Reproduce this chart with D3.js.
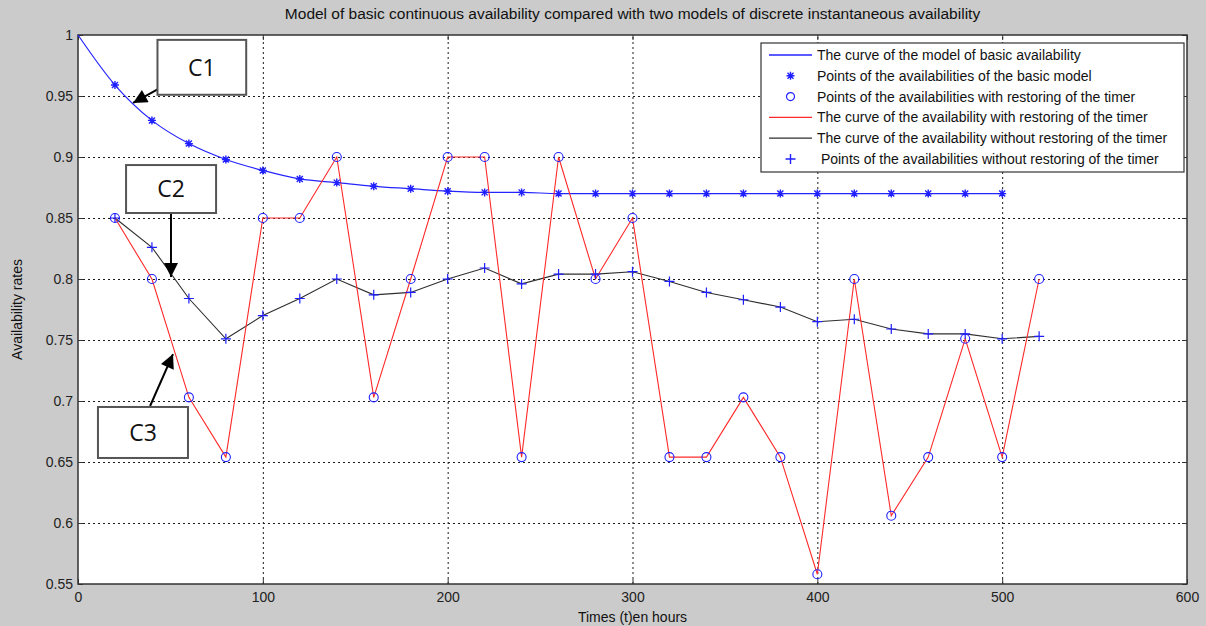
<!DOCTYPE html>
<html>
<head>
<meta charset="utf-8">
<script src="https://cdn.jsdelivr.net/npm/d3@7"></script>
<style>
  html, body { margin: 0; padding: 0; background: #cbcbcb; }
  svg { display: block; font-family: "Liberation Sans", Arial, sans-serif; }
  .grid line { stroke: #1a1a1a; stroke-width: 1; stroke-dasharray: 2,3; }
  .grid path, .frame-ticks path { display: none; }
  .axis path { display: none; }
  .axis line, .frame-ticks line { stroke: #333; }
  .axis text { fill: #222; font-size: 14px; font-family: "Liberation Sans", Arial, sans-serif; }
</style>
</head>
<body>
<svg id="chart"></svg>
<script>
'use strict';

// layout constants
const CONFIG = {
  width: 1206,
  height: 626,
  left: 78,
  right: 1187,
  top: 35,
  bottom: 584,
  tickLen: 5,
  fontSize: 14,
  titleSize: 15.5,
  legend: { x: 761, y: 43, w: 423, h: 129, rowH: 20.8, sampleX0: 769, sampleX1: 812, textX: 817 }
};

const COLORS = {
  blue: '#2424ff',
  red: '#ff2a2a',
  black: '#2e2e2e',
  marker: '#1f1fff'
};

// axis ticks
const xTicks = [0, 100, 200, 300, 400, 500, 600];
const yTicks = [0.55, 0.6, 0.65, 0.7, 0.75, 0.8, 0.85, 0.9, 0.95, 1];

// basic model: continuous curve + star points (hours)
const basicHours = [0, 20, 40, 60, 80, 100, 120, 140, 160, 180, 200, 220, 240, 260,
  280, 300, 320, 340, 360, 380, 400, 420, 440, 460, 480, 500];
const basicValues = [1, 0.959, 0.930, 0.911, 0.898, 0.889, 0.882, 0.879, 0.876, 0.874,
  0.872, 0.871, 0.871, 0.870, 0.870, 0.870, 0.870, 0.870, 0.870, 0.870, 0.870, 0.870,
  0.870, 0.870, 0.870, 0.870];

// discrete models
const discreteHours = [20, 40, 60, 80, 100, 120, 140, 160, 180, 200, 220, 240, 260,
  280, 300, 320, 340, 360, 380, 400, 420, 440, 460, 480, 500, 520];
const restoreValues = [0.85, 0.80, 0.703, 0.654, 0.85, 0.85, 0.90, 0.703, 0.80, 0.90,
  0.90, 0.654, 0.90, 0.80, 0.85, 0.654, 0.654, 0.703, 0.654, 0.558, 0.80, 0.606,
  0.654, 0.751, 0.654, 0.80];
const noRestoreValues = [0.85, 0.826, 0.784, 0.751, 0.770, 0.784, 0.80, 0.787, 0.789,
  0.80, 0.809, 0.796, 0.804, 0.804, 0.806, 0.798, 0.789, 0.783, 0.777, 0.765, 0.767,
  0.759, 0.755, 0.755, 0.751, 0.753];

const legendLabels = [
  'The curve of the model of basic availability',
  'Points of the availabilities of the basic model',
  'Points of the availabilities with restoring of the timer',
  'The curve of the availability with restoring of the timer',
  'The curve of the availability without restoring of the timer',
  ' Points of the availabilities without restoring of the timer'
];
const legendKinds = ['blueLine', 'star', 'circle', 'redLine', 'blackLine', 'plus'];

// callout boxes, in data units
const annotations = [
  { label: 'C1', box: [43, 91, 0.996, 0.951], from: [43.3, 0.9557], to: [29.8, 0.9443] },
  { label: 'C2', box: [26, 74.7, 0.8934, 0.8541], from: [50.3, 0.8541], to: [50.3, 0.8016] },
  { label: 'C3', box: [10.8, 59.5, 0.6951, 0.6533], from: [39, 0.6959], to: [51.4, 0.7385] }
];

const titleText = 'Model of basic continuous availability compared with two models of discrete instantaneous availability';
const xLabel = 'Times (t)en hours';
const yLabel = 'Availability rates';

const svg = d3.select('#chart')
  .attr('width', CONFIG.width)
  .attr('height', CONFIG.height);

svg.append('rect')
  .attr('width', CONFIG.width).attr('height', CONFIG.height)
  .attr('fill', '#cbcbcb');

const x = d3.scaleLinear().domain([0, 600]).range([CONFIG.left, CONFIG.right]);
const y = d3.scaleLinear().domain([0.55, 1]).range([CONFIG.bottom, CONFIG.top]);
const plotW = CONFIG.right - CONFIG.left;
const plotH = CONFIG.bottom - CONFIG.top;

// white plotting area
svg.append('rect')
  .attr('x', CONFIG.left).attr('y', CONFIG.top)
  .attr('width', plotW).attr('height', plotH)
  .attr('fill', '#fff');

// dotted grid
svg.append('g')
  .attr('class', 'grid')
  .attr('transform', `translate(0,${CONFIG.bottom})`)
  .call(d3.axisBottom(x).tickValues(xTicks.slice(1, -1)).tickSize(-plotH).tickFormat(''));

svg.append('g')
  .attr('class', 'grid')
  .attr('transform', `translate(${CONFIG.left},0)`)
  .call(d3.axisLeft(y).tickValues(yTicks.slice(1, -1)).tickSize(-plotW).tickFormat(''));

// axes with inward ticks
svg.append('g')
  .attr('class', 'axis')
  .attr('transform', `translate(0,${CONFIG.bottom})`)
  .call(d3.axisBottom(x).tickValues(xTicks).tickSizeInner(-CONFIG.tickLen).tickSizeOuter(0).tickPadding(8).tickFormat(d3.format('d')));

svg.append('g')
  .attr('class', 'axis')
  .attr('transform', `translate(${CONFIG.left},0)`)
  .call(d3.axisLeft(y).tickValues(yTicks).tickSizeInner(-CONFIG.tickLen).tickSizeOuter(0).tickPadding(5).tickFormat(d => String(+d.toFixed(2))));

svg.append('g')
  .attr('class', 'frame-ticks')
  .attr('transform', `translate(0,${CONFIG.top})`)
  .call(d3.axisTop(x).tickValues(xTicks).tickSizeInner(-CONFIG.tickLen).tickSizeOuter(0).tickFormat(''));

svg.append('g')
  .attr('class', 'frame-ticks')
  .attr('transform', `translate(${CONFIG.right},0)`)
  .call(d3.axisRight(y).tickValues(yTicks).tickSizeInner(-CONFIG.tickLen).tickSizeOuter(0).tickFormat(''));

// box around the axes
svg.append('rect')
  .attr('x', CONFIG.left).attr('y', CONFIG.top)
  .attr('width', plotW).attr('height', plotH)
  .attr('fill', 'none')
  .attr('stroke', '#333')
  .attr('stroke-width', 1.5);

// marker shapes
const starPath = 'M-4,0L4,0M0,-4L0,4M-3,-3L3,3M-3,3L3,-3';
const plusPath = 'M-5,0L5,0M0,-5L0,5';

const basicData = basicHours.map((t, i) => ({ t, v: basicValues[i] }));
const restoreData = discreteHours.map((t, i) => ({ t, v: restoreValues[i] }));
const noRestoreData = discreteHours.map((t, i) => ({ t, v: noRestoreValues[i] }));

const straight = d3.line().x(d => x(d.t)).y(d => y(d.v));
const smooth = d3.line().x(d => x(d.t)).y(d => y(d.v)).curve(d3.curveMonotoneX);

const plot = svg.append('g');

plot.append('path')
  .datum(basicData)
  .attr('d', smooth)
  .attr('fill', 'none')
  .attr('stroke', COLORS.blue)
  .attr('stroke-width', 1.2);

plot.append('path')
  .datum(noRestoreData)
  .attr('d', straight)
  .attr('fill', 'none')
  .attr('stroke', COLORS.black)
  .attr('stroke-width', 1.1);

plot.append('path')
  .datum(restoreData)
  .attr('d', straight)
  .attr('fill', 'none')
  .attr('stroke', COLORS.red)
  .attr('stroke-width', 1.1);

plot.selectAll('.star')
  .data(basicData.filter(d => d.t > 0))
  .enter().append('path')
  .attr('class', 'star')
  .attr('transform', d => `translate(${x(d.t)},${y(d.v)})`)
  .attr('d', starPath)
  .attr('stroke', COLORS.marker)
  .attr('stroke-width', 1.4);

plot.selectAll('.ring')
  .data(restoreData)
  .enter().append('circle')
  .attr('class', 'ring')
  .attr('cx', d => x(d.t))
  .attr('cy', d => y(d.v))
  .attr('r', 4.5)
  .attr('fill', 'none')
  .attr('stroke', COLORS.marker)
  .attr('stroke-width', 1.1);

plot.selectAll('.plus')
  .data(noRestoreData)
  .enter().append('path')
  .attr('class', 'plus')
  .attr('transform', d => `translate(${x(d.t)},${y(d.v)})`)
  .attr('d', plusPath)
  .attr('stroke', COLORS.marker)
  .attr('stroke-width', 1.2);

// callouts C1, C2, C3
svg.append('defs').append('marker')
  .attr('id', 'arrowhead')
  .attr('viewBox', '0 0 10 10')
  .attr('refX', 10).attr('refY', 5)
  .attr('markerUnits', 'userSpaceOnUse')
  .attr('markerWidth', 16).attr('markerHeight', 14)
  .attr('orient', 'auto')
  .append('path')
  .attr('d', 'M0,0L10,5L0,10Z')
  .attr('fill', '#000');

const callout = svg.append('g').selectAll('g')
  .data(annotations)
  .enter().append('g');

callout.append('line')
  .attr('x1', d => x(d.from[0])).attr('y1', d => y(d.from[1]))
  .attr('x2', d => x(d.to[0])).attr('y2', d => y(d.to[1]))
  .attr('stroke', '#000')
  .attr('stroke-width', 2)
  .attr('marker-end', 'url(#arrowhead)');

callout.append('rect')
  .attr('x', d => x(d.box[0]))
  .attr('y', d => y(d.box[2]))
  .attr('width', d => x(d.box[1]) - x(d.box[0]))
  .attr('height', d => y(d.box[3]) - y(d.box[2]))
  .attr('fill', '#fff')
  .attr('stroke', '#555')
  .attr('stroke-width', 2);

callout.append('text')
  .attr('x', d => (x(d.box[0]) + x(d.box[1])) / 2)
  .attr('y', d => (y(d.box[2]) + y(d.box[3])) / 2)
  .attr('dy', '0.36em')
  .attr('text-anchor', 'middle')
  .attr('font-family', '"Open Sans", "Liberation Sans", sans-serif')
  .attr('font-size', 23)
  .attr('fill', '#111')
  .text(d => d.label);

// legend
const L = CONFIG.legend;
const legend = svg.append('g');
legend.append('rect')
  .attr('x', L.x).attr('y', L.y)
  .attr('width', L.w).attr('height', L.h)
  .attr('fill', '#fff')
  .attr('stroke', '#333')
  .attr('stroke-width', 1.2);

const row = legend.selectAll('.row')
  .data(legendLabels.map((label, i) => ({ label, kind: legendKinds[i], i })))
  .enter().append('g')
  .attr('class', 'row')
  .attr('transform', d => `translate(0,${L.y + 12 + d.i * L.rowH})`);

const lineColor = { blueLine: COLORS.blue, redLine: COLORS.red, blackLine: COLORS.black };
const midX = (L.sampleX0 + L.sampleX1) / 2;

row.each(function(d) {
  const r = d3.select(this);
  if (lineColor[d.kind]) {
    r.append('line')
      .attr('x1', L.sampleX0).attr('x2', L.sampleX1)
      .attr('stroke', lineColor[d.kind])
      .attr('stroke-width', 1.3);
  } else if (d.kind === 'circle') {
    r.append('circle').attr('cx', midX).attr('r', 4)
      .attr('fill', 'none').attr('stroke', COLORS.marker).attr('stroke-width', 1.2);
  } else {
    r.append('path')
      .attr('transform', `translate(${midX},0)`)
      .attr('d', d.kind === 'star' ? starPath : plusPath)
      .attr('stroke', COLORS.marker)
      .attr('stroke-width', 1.4);
  }
  r.append('text')
    .attr('x', L.textX)
    .attr('dy', '0.35em')
    .attr('font-size', CONFIG.fontSize)
    .attr('fill', '#111')
    .attr('xml:space', 'preserve')
    .text(d.label);
});

// titles
svg.append('text')
  .attr('x', (CONFIG.left + CONFIG.right) / 2)
  .attr('y', 19)
  .attr('text-anchor', 'middle')
  .attr('font-size', CONFIG.titleSize)
  .attr('fill', '#111')
  .text(titleText);

svg.append('text')
  .attr('x', (CONFIG.left + CONFIG.right) / 2)
  .attr('y', 622)
  .attr('text-anchor', 'middle')
  .attr('font-size', CONFIG.fontSize)
  .attr('fill', '#111')
  .text(xLabel);

svg.append('text')
  .attr('transform', `translate(22,${(CONFIG.top + CONFIG.bottom) / 2}) rotate(-90)`)
  .attr('text-anchor', 'middle')
  .attr('font-size', CONFIG.fontSize)
  .attr('fill', '#111')
  .text(yLabel);
</script>
</body>
</html>
